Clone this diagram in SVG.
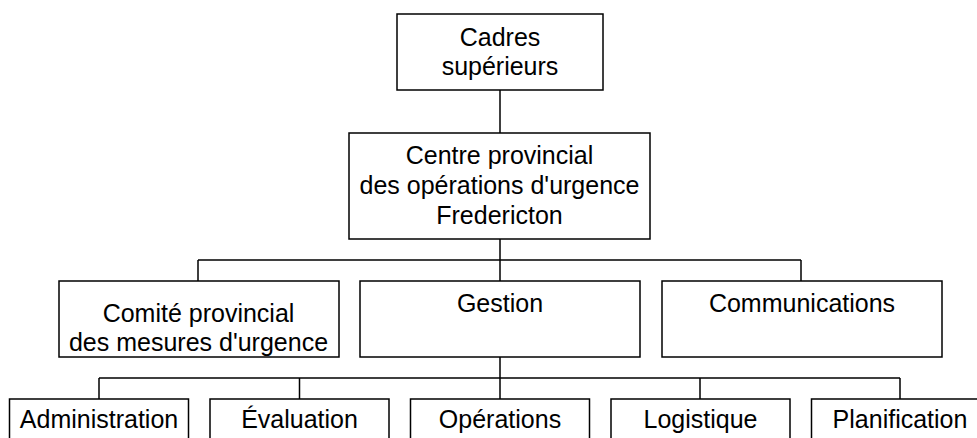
<svg xmlns="http://www.w3.org/2000/svg" width="977" height="438" viewBox="0 0 977 438">
<style>
.box{fill:#fff;stroke:#000;stroke-width:1.5}
.t{font-family:"Liberation Sans",Arial,sans-serif;font-size:25px;fill:#000;text-anchor:middle}
.c{fill:none;stroke:#000;stroke-width:1.5}
</style>
<rect width="977" height="438" fill="#fff"/>
<g id="connectors">
<path class="c" d="M500 90V133"/>
<path class="c" d="M500 239V260M198 260H801M198 260V281M500 260V281M801 260V281"/>
<path class="c" d="M500 357V378M99 378H900M99 378V399M299.5 378V399M500 378V399M700 378V399M900 378V399"/>
</g>
<g id="cadres">
<rect class="box" x="397" y="14" width="206" height="76"/>
<text class="t" x="500" y="46">Cadres</text>
<text class="t" x="500" y="75">supérieurs</text>
</g>
<g id="centre">
<rect class="box" x="349" y="133" width="301" height="106"/>
<text class="t" x="499.5" y="164">Centre provincial</text>
<text class="t" x="499.5" y="194">des opérations d'urgence</text>
<text class="t" x="499.5" y="224">Fredericton</text>
</g>
<g id="comite">
<rect class="box" x="59" y="281" width="280" height="76"/>
<text class="t" x="198.5" y="321.5">Comité provincial</text>
<text class="t" x="198.5" y="350.5">des mesures d'urgence</text>
</g>
<g id="gestion">
<rect class="box" x="360" y="281" width="280" height="76"/>
<text class="t" x="500" y="312">Gestion</text>
</g>
<g id="communications">
<rect class="box" x="662" y="281" width="280" height="76"/>
<text class="t" x="802" y="312">Communications</text>
</g>
<g id="administration">
<rect class="box" x="9.5" y="399" width="179" height="60"/>
<text class="t" x="99" y="428">Administration</text>
</g>
<g id="evaluation">
<rect class="box" x="210" y="399" width="179" height="60"/>
<text class="t" x="299.5" y="428">Évaluation</text>
</g>
<g id="operations">
<rect class="box" x="410.5" y="399" width="179" height="60"/>
<text class="t" x="500" y="428">Opérations</text>
</g>
<g id="logistique">
<rect class="box" x="611" y="399" width="179" height="60"/>
<text class="t" x="700.5" y="428">Logistique</text>
</g>
<g id="planification">
<rect class="box" x="811.5" y="399" width="179" height="60"/>
<text class="t" x="900" y="428">Planification</text>
</g>
</svg>
